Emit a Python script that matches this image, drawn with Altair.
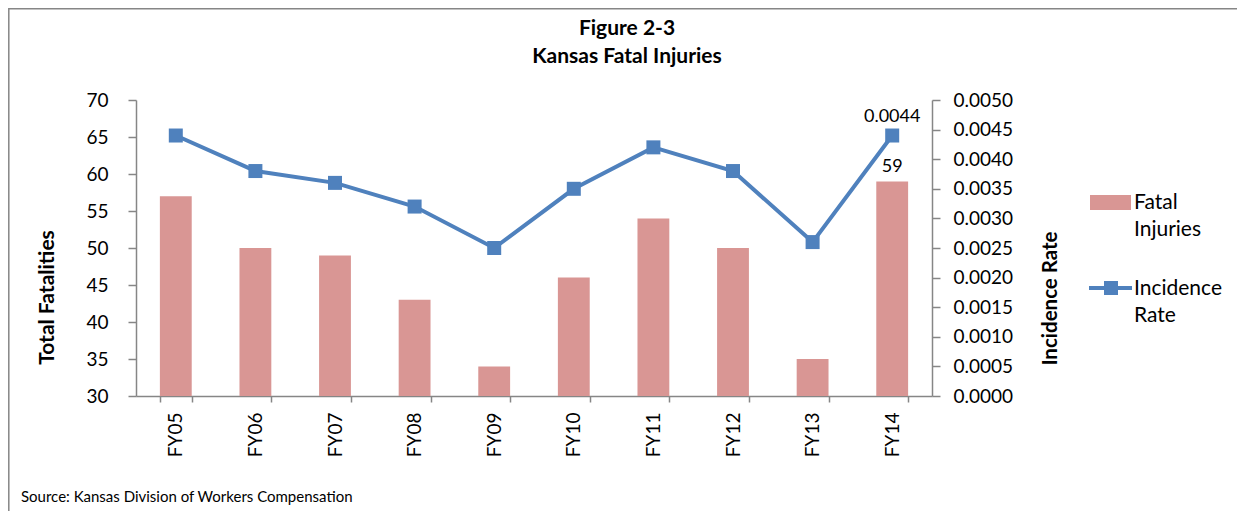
import altair as alt
import pandas as pd

years = ["FY05", "FY06", "FY07", "FY08", "FY09", "FY10", "FY11", "FY12", "FY13", "FY14"]
fatal_injuries = [57, 50, 49, 43, 34, 46, 54, 50, 35, 59]
incidence_rate = [0.0044, 0.0038, 0.0036, 0.0032, 0.0025, 0.0035, 0.0042, 0.0038, 0.0026, 0.0044]
left_ticks = [30, 35, 40, 45, 50, 55, 60, 65, 70]
right_ticks = [0.0, 0.0005, 0.0010, 0.0015, 0.0020, 0.0025, 0.0030, 0.0035, 0.0040, 0.0045, 0.0050]
labeled_year = "FY14"
title_lines = ["Figure 2-3", "Kansas Fatal Injuries"]
legend_lines = ["Fatal", "Injuries", "Incidence", "Rate"]
source_text = "Source: Kansas Division of Workers Compensation"

FONT = "Lato"
BAR = "#D99694"
LINE = "#4F81BD"
AXIS = "#868686"
W, H = 796, 296

df = pd.DataFrame({"year": years, "fatal": fatal_injuries, "rate": incidence_rate})
df["rate_lbl"] = [f"{v:.4f}" for v in incidence_rate]
df["fatal_lbl"] = [str(v) for v in fatal_injuries]

x = alt.X("year:N", sort=years,
          scale=alt.Scale(paddingInner=0.6, paddingOuter=0.3),
          axis=alt.Axis(title=None, labelAngle=270, labelAlign="right", labelBaseline="middle",
                        tickBand="extent", tickSize=6, labelPadding=10, labelFontSize=19,
                        labelFont=FONT, labelColor="black", domainColor=AXIS, tickColor=AXIS,
                        domainWidth=1.5, tickWidth=1.5))

yl_scale = alt.Scale(domain=[30, 70], zero=False, nice=False)
yl_axis = alt.Axis(title="Total Fatalities", orient="left", values=left_ticks, tickSize=8,
                   labelPadding=20, labelFontSize=19, labelFont=FONT, labelColor="black",
                   titleFont=FONT, titleFontSize=21, titleFontWeight="bold", titleColor="black",
                   titleAngle=270, titleX=-89, titleY=197, titleAlign="center", titleBaseline="middle",
                   domainColor=AXIS, tickColor=AXIS, domainWidth=1.5, tickWidth=1.5, grid=False)
yr_scale = alt.Scale(domain=[0, 0.005], nice=False)
yr_axis = alt.Axis(title="Incidence Rate", orient="right", values=right_ticks, format=".4f", tickSize=8,
                   labelPadding=13, labelFontSize=19, labelFont=FONT, labelColor="black",
                   titleFont=FONT, titleFontSize=20.5, titleFontWeight="bold", titleColor="black",
                   titleAngle=270, titleX=118, titleY=198, titleAlign="center", titleBaseline="middle",
                   domainColor=AXIS, tickColor=AXIS, domainWidth=1.5, tickWidth=1.5, grid=False)

base = alt.Chart(df)

bars = base.mark_bar(color=BAR).encode(
    x=x,
    y=alt.Y("fatal:Q", scale=yl_scale, axis=yl_axis),
    y2=alt.datum(30),
)
bar_lbl = base.transform_filter(alt.datum.year == labeled_year).mark_text(
    font=FONT, fontSize=18, color="black", baseline="alphabetic", dy=-9
).encode(x=x, y=alt.Y("fatal:Q", scale=yl_scale, axis=None), text="fatal_lbl:N")

line = base.mark_line(color=LINE, strokeWidth=4).encode(
    x=x, y=alt.Y("rate:Q", scale=yr_scale, axis=yr_axis))
pts = base.mark_square(color=LINE, size=196, opacity=1).encode(
    x=x, y=alt.Y("rate:Q", scale=yr_scale, axis=None))
line_lbl = base.transform_filter(alt.datum.year == labeled_year).mark_text(
    font=FONT, fontSize=18, color="black", baseline="alphabetic", dy=-14
).encode(x=x, y=alt.Y("rate:Q", scale=yr_scale, axis=None), text="rate_lbl:N")

# decorations: frame, title, source, legend
one = pd.DataFrame({"a": [0]})
frame = alt.Chart(one).mark_rect(filled=False, color=AXIS, strokeWidth=1.5).encode(
    x=alt.value(-127.2), x2=alt.value(1150), y=alt.value(-91.2), y2=alt.value(430))

title_df = pd.DataFrame({"t": title_lines, "yy": [-65, -37]})
title = alt.Chart(title_df).mark_text(
    font=FONT, fontSize=21, fontWeight="bold", color="black", align="center", baseline="alphabetic"
).encode(x=alt.value(491), y=alt.Y("yy:Q", scale=None, axis=None), text="t:N")

source = alt.Chart(one).mark_text(
    text=source_text, font=FONT, fontSize=15,
    color="black", align="left", baseline="alphabetic").encode(x=alt.value(-115), y=alt.value(402))

leg_rect = alt.Chart(one).mark_rect(color=BAR).encode(
    x=alt.value(954), x2=alt.value(995), y=alt.value(95), y2=alt.value(110))
leg_line = alt.Chart(one).mark_rule(color=LINE, strokeWidth=4).encode(
    x=alt.value(953), x2=alt.value(996), y=alt.value(188))
leg_sq = alt.Chart(one).mark_square(color=LINE, size=196, opacity=1).encode(
    x=alt.value(975), y=alt.value(188))
leg_txt_df = pd.DataFrame({"t": legend_lines, "yy": [109, 136, 195, 222]})
leg_txt = alt.Chart(leg_txt_df).mark_text(
    font=FONT, fontSize=21, color="black", align="left", baseline="alphabetic").encode(
    x=alt.value(998), y=alt.Y("yy:Q", scale=None, axis=None), text="t:N")

chart = alt.layer(
    frame, bars, bar_lbl, line, pts, line_lbl, title, source, leg_rect, leg_line, leg_sq, leg_txt
).resolve_scale(y="independent").properties(
    width=W, height=H,
    padding={"left": 128, "top": 92, "right": 305, "bottom": 115},
    autosize=alt.AutoSizeParams(type="none"),
).configure_view(stroke=None).configure_axis(grid=False)

chart.save("out.html", embed_options={"renderer": "svg", "actions": False})
